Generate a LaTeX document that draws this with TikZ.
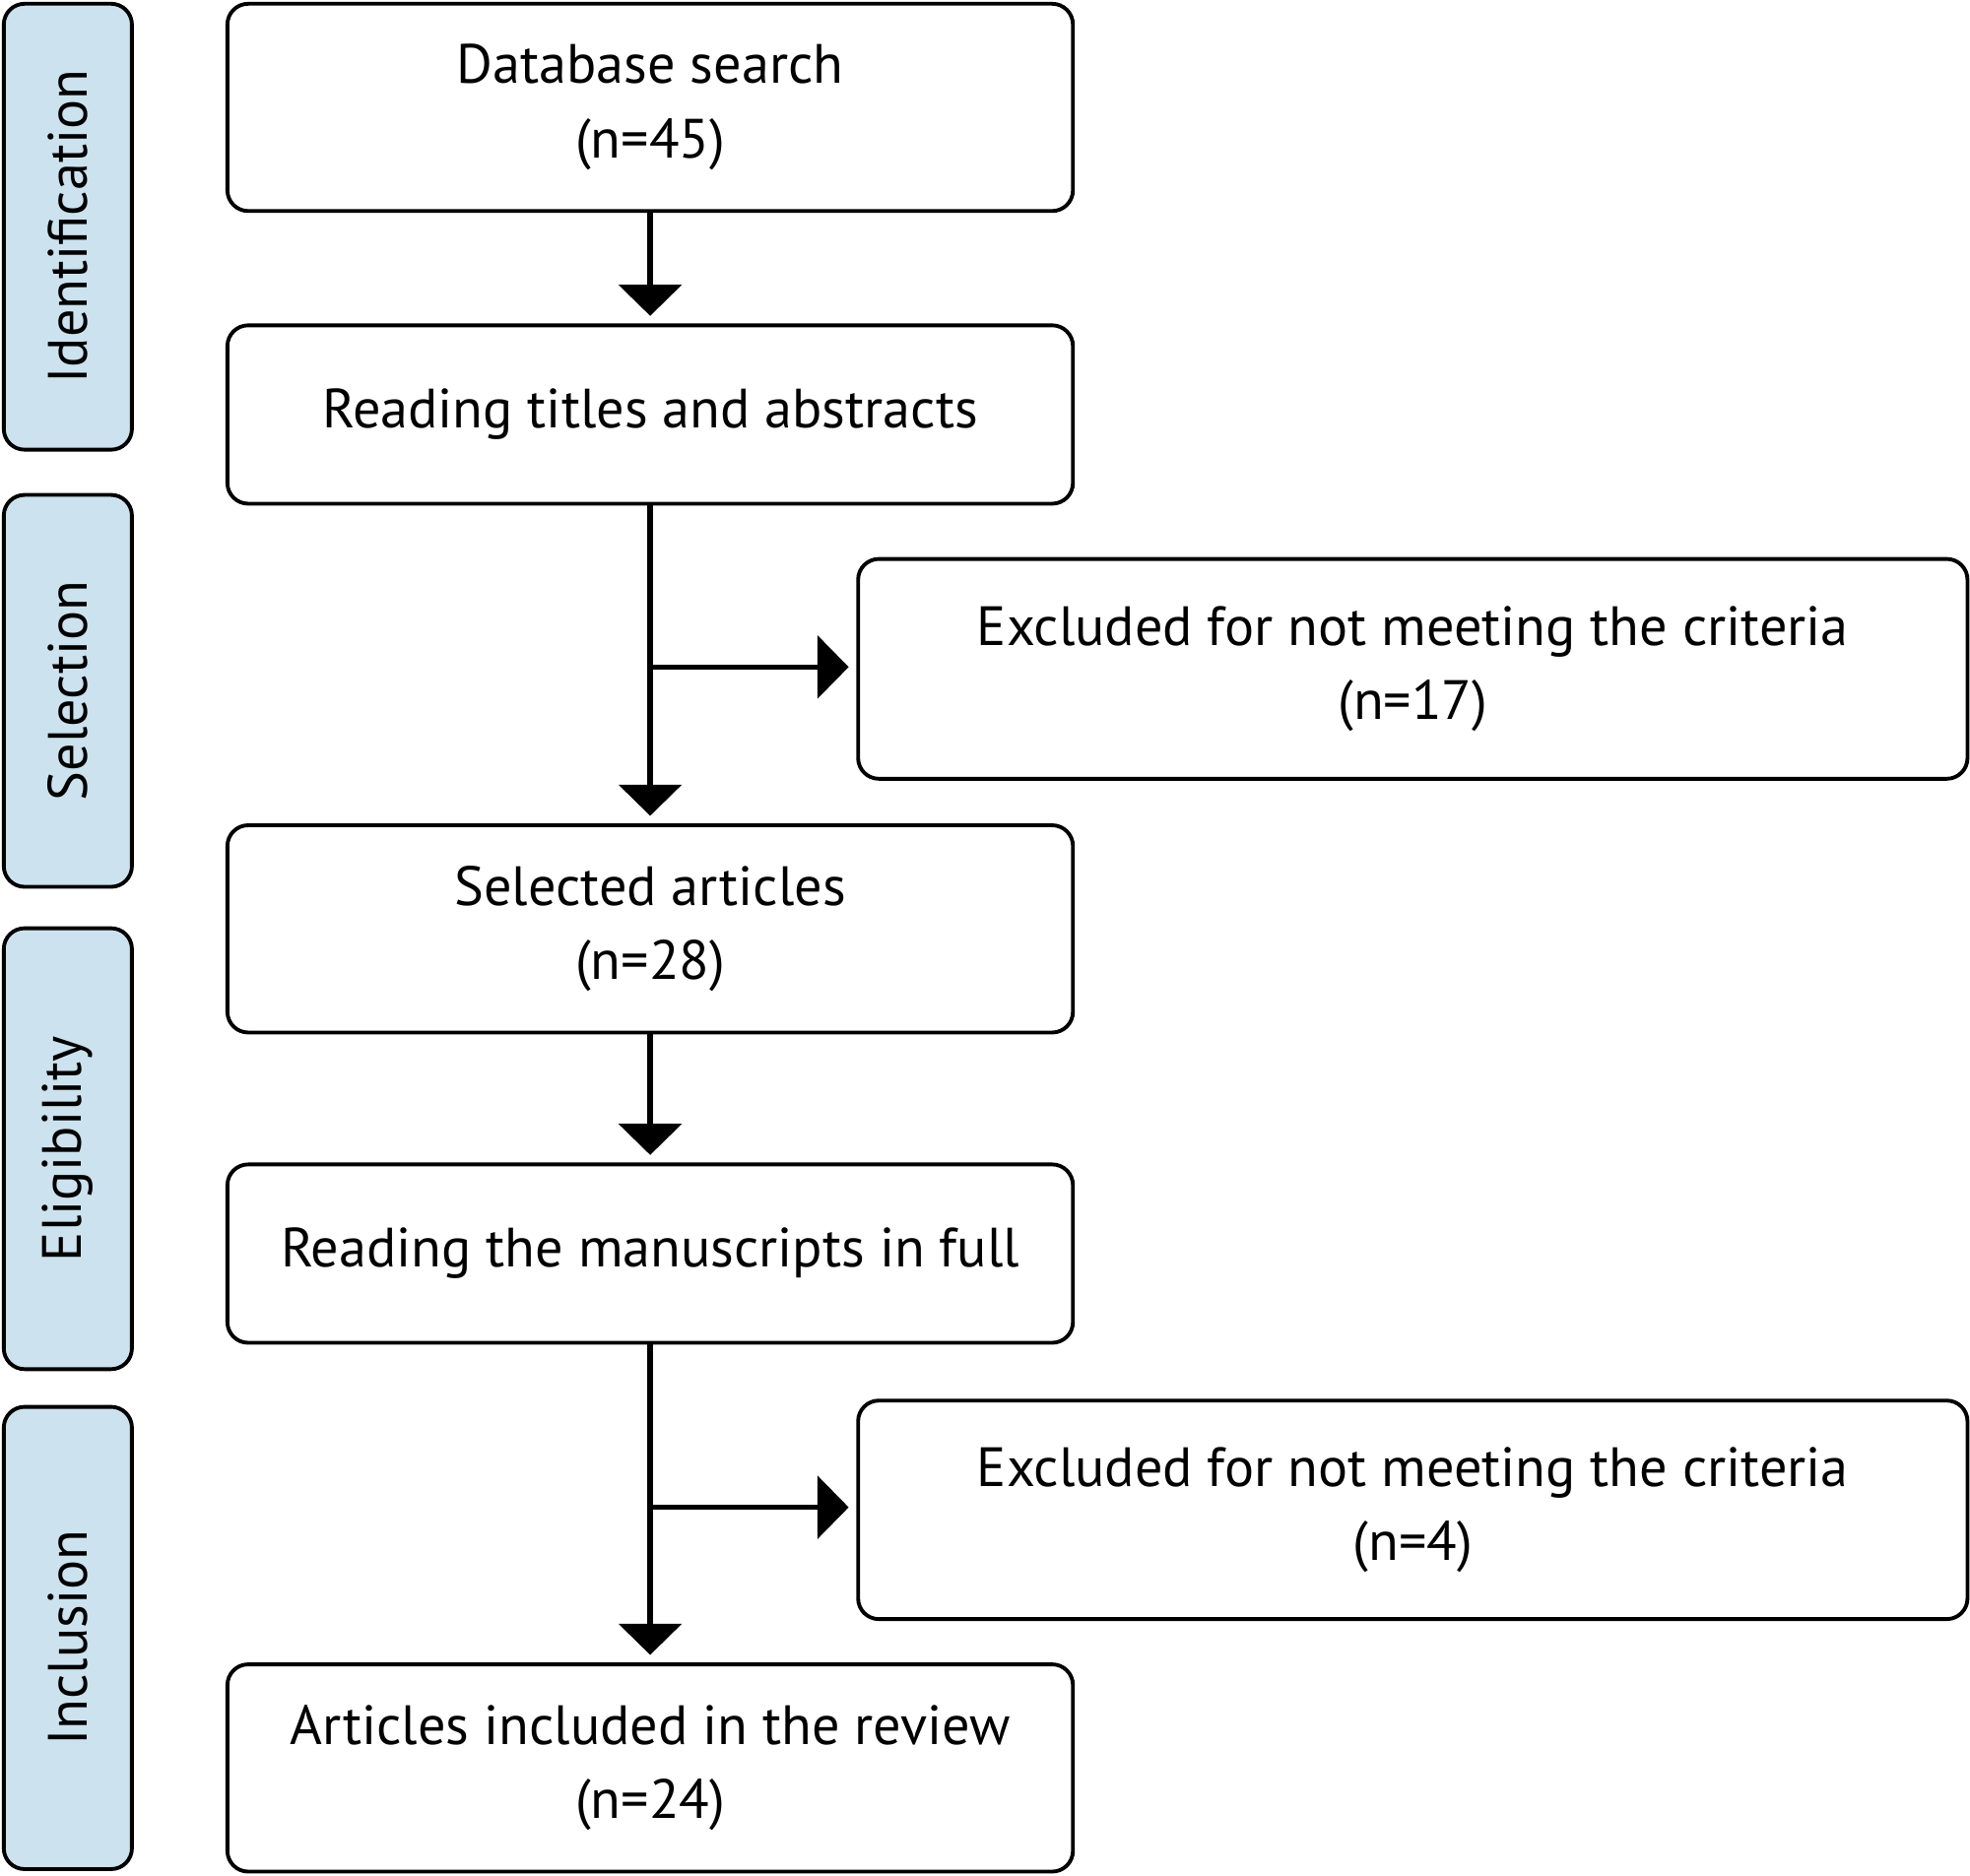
\documentclass[tikz,border=0pt]{standalone}
\usepackage{fontspec}
\setmainfont{PT Sans}
\usetikzlibrary{arrows.meta}
\definecolor{phase}{RGB}{204,226,238}
\def\u{0.012755cm}
\begin{document}
\begin{tikzpicture}[x=\u, y=-\u]

%---- STYLES ----
\tikzset{
    txt/.style={align=center, font=\fontsize{16}{21.5}\selectfont},
    box/.style={txt, draw, line width=1.1pt, rounded corners=6pt, fill=white, inner sep=0pt,
        minimum width=673*\u},
    phase/.style={txt, draw, line width=1.1pt, rounded corners=6pt, fill=phase, rotate=90,
        inner sep=0pt, minimum height=102*\u},
    flow/.style={line width=1.5pt, -{Triangle[width=18pt,length=9pt]}, shorten >=6*\u},
}

\useasboundingbox (0,0) rectangle (1568,1493);

% PHASES
\node[phase, minimum width=355*\u] (id)  at (54,180.5)  {Identification};
\node[phase, minimum width=312*\u] (sel) at (54,550)    {Selection};
\node[phase, minimum width=351*\u] (eli) at (54,914.5)  {Eligibility};
\node[phase, minimum width=368*\u] (inc) at (54,1304)   {Inclusion};

% MAIN BOXES
\node[box, minimum height=165*\u] (db)   at (517.5,85.5)  {Database search\\(n=45)};
\node[box, minimum height=142*\u] (read) at (517.5,330)   {Reading titles and abstracts};
\node[box, minimum height=165*\u] (art)  at (517.5,739.5) {Selected articles\\(n=28)};
\node[box, minimum height=142*\u] (full) at (517.5,998)   {Reading the manuscripts in full};
\node[box, minimum height=165*\u] (incl) at (517.5,1407.5){Articles included in the review\\(n=24)};

% EXCLUDED
\node[box, minimum width=883*\u, minimum height=175*\u] (ex1) at (1124.5,532.5) {Excluded for not meeting the criteria\\(n=17)};
\node[box, minimum width=883*\u, minimum height=174*\u] (ex2) at (1124.5,1202)  {Excluded for not meeting the criteria\\(n=4)};

% ARROWS
\coordinate (b1) at (517.5,531);
\coordinate (b2) at (517.5,1200);
\draw[flow] (db) -- (read);
\draw[flow] (read) -- (art);
\draw[flow] (b1) -- (b1 -| ex1.west);
\draw[flow] (art) -- (full);
\draw[flow] (full) -- (incl);
\draw[flow] (b2) -- (b2 -| ex2.west);

\end{tikzpicture}
\end{document}
